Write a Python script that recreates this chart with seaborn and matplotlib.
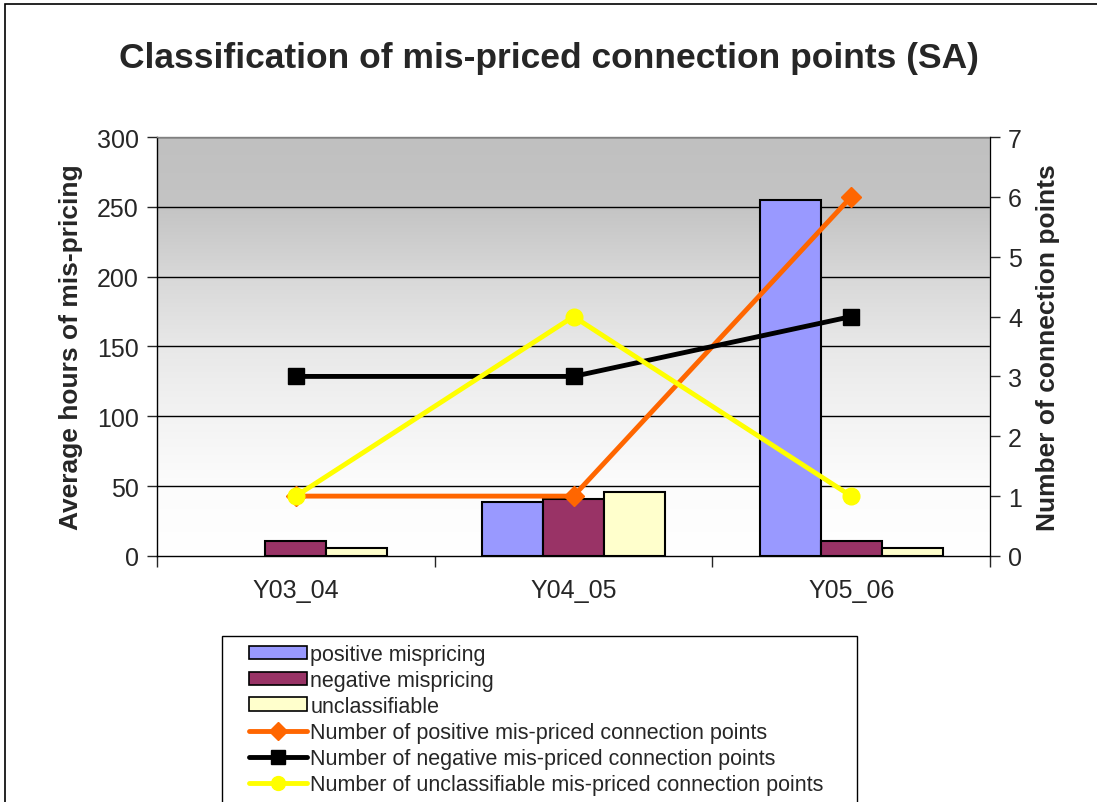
import numpy as np
import pandas as pd
import matplotlib
matplotlib.use("Agg")
import matplotlib.pyplot as plt
import seaborn as sns
from matplotlib.lines import Line2D
from matplotlib.patches import Patch, Rectangle
from matplotlib.colors import LinearSegmentedColormap

years = ["Y03_04", "Y04_05", "Y05_06"]
positive_hours = [0, 39, 255]
negative_hours = [11, 41, 11]
unclass_hours = [6, 46, 6]
pos_count = [1, 1, 6]
neg_count = [3, 3, 4]
unc_count = [1, 4, 1]

bar_names = ["positive mispricing", "negative mispricing", "unclassifiable"]
bar_colors = ["#9999FF", "#993366", "#FFFFCC"]

sns.set_style("white")
plt.rcParams["font.family"] = ["Liberation Sans", "DejaVu Sans"]

df = pd.DataFrame({
    "year": years * 3,
    "series": [bar_names[0]] * 3 + [bar_names[1]] * 3 + [bar_names[2]] * 3,
    "hours": positive_hours + negative_hours + unclass_hours,
})

fig = plt.figure(figsize=(10.97, 8.03), dpi=100)
ax = fig.add_axes([0.1431, 0.3064, 0.7594, 0.5217])

# gradient background (bottom -> top)
grad = np.linspace(0, 1, 256).reshape(-1, 1)
cmap = LinearSegmentedColormap.from_list("g", [
    (0.0, "#FFFFFF"), (1/6, "#FCFCFC"), (2/6, "#F3F3F3"), (3/6, "#E8E8E8"),
    (4/6, "#D8D8D8"), (5/6, "#C4C4C4"), (1.0, "#C0C0C0")])
ax.imshow(grad, extent=(-0.5, 2.5, 0, 300), aspect="auto", cmap=cmap,
          vmin=0, vmax=1, zorder=0, origin="lower")

sns.barplot(data=df, x="year", y="hours", hue="series", hue_order=bar_names,
            palette=bar_colors, width=0.66, edgecolor="black", linewidth=1.5,
            ax=ax, legend=False, zorder=3, saturation=1)
for p in ax.patches:
    if p.get_height() == 0:
        p.set_visible(False)

ax.set_xlim(-0.5, 2.5)
ax.set_ylim(0, 300)
ax.set_yticks(range(0, 301, 50))
for y in range(50, 301, 50):
    ax.axhline(y, color="black", lw=1.0, zorder=1)
ax.set_xlabel("")
ax.set_ylabel("Average hours of mis-pricing", fontsize=19, fontweight="bold", labelpad=10)
ax.tick_params(axis="y", labelsize=18, length=7, direction="out", left=True, width=1, pad=6)
ax.tick_params(axis="x", labelsize=18, length=0, pad=16)
ax.set_xticks([-0.5, 0.5, 1.5, 2.5], minor=True)
ax.tick_params(axis="x", which="minor", length=8, direction="out", bottom=True, width=1)
for s in ax.spines.values():
    s.set_color("#808080")
    s.set_linewidth(1)
ax.spines["bottom"].set_color("black")
ax.spines["left"].set_color("black")

ax2 = ax.twinx()
x = np.arange(len(years))
ax2.plot(x, pos_count, color="#FF6600", lw=3.5, marker="D", ms=10, zorder=5)
ax2.plot(x, neg_count, color="black", lw=3.5, marker="s", ms=11, zorder=5)
ax2.plot(x, unc_count, color="#FFFF00", lw=3.5, marker="o", ms=12, zorder=5)
ax2.set_ylim(0, 7)
ax2.set_yticks(range(0, 8))
ax2.tick_params(axis="y", labelsize=18, length=7, direction="out", right=True, width=1, pad=6)
ax2.set_ylabel("Number of connection points", fontsize=19, fontweight="bold", labelpad=10)
for s in ax2.spines.values():
    s.set_visible(False)
ax2.spines["right"].set_visible(True)
ax2.spines["right"].set_color("black")

fig.text(0.5, 0.927, "Classification of mis-priced connection points (SA)",
         ha="center", va="center", fontsize=25.5, fontweight="bold")

handles = [Patch(facecolor=c, edgecolor="black", lw=1.2) for c in bar_colors] + [
    Line2D([], [], color="#FF6600", lw=3.5, marker="D", ms=9),
    Line2D([], [], color="black", lw=3.5, marker="s", ms=10),
    Line2D([], [], color="#FFFF00", lw=3.5, marker="o", ms=10),
]
labels = bar_names + [
    "Number of positive mis-priced connection points",
    "Number of negative mis-priced connection points",
    "Number of unclassifiable mis-priced connection points",
]
# legend frame box
fig.patches.append(Rectangle((222 / 1097, -0.01), (857 - 222) / 1097, 0.01 + (803 - 637) / 803,
                             transform=fig.transFigure, facecolor="white",
                             edgecolor="black", lw=1))
leg = fig.legend(handles, labels, loc="upper left", bbox_to_anchor=(249 / 1097, 1 - 645 / 803),
                 fontsize=15.5, frameon=False,
                 handlelength=2.7, handleheight=0.6, handletextpad=0.15, labelspacing=0.23,
                 borderpad=0, borderaxespad=0)

fig.patches.append(Rectangle((0.005, -0.01), 1.0, 1.004, transform=fig.transFigure,
                             fill=False, edgecolor="black", lw=1.2))

fig.savefig("out.png", dpi=100)
